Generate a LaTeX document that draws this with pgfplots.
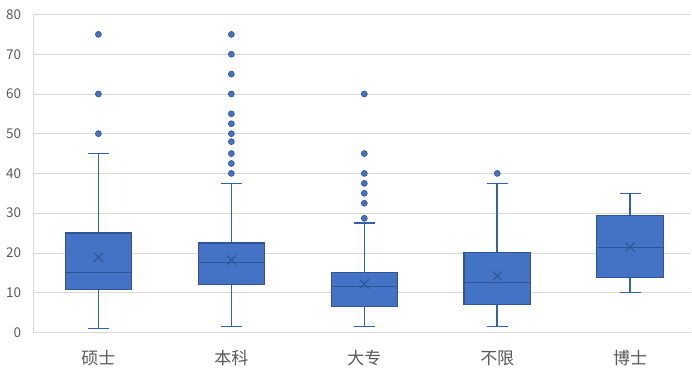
\documentclass[border=0pt]{standalone}
\usepackage{fontspec}
\setmainfont{Noto Sans CJK SC}
\usepackage{pgfplots}
\pgfplotsset{compat=1.18}
\usepgfplotslibrary{statistics}
\usetikzlibrary{calc}
\definecolor{boxfill}{HTML}{4472C4}
\definecolor{boxedge}{HTML}{2F5597}
\definecolor{whisk}{HTML}{3160B4}
\definecolor{gridc}{HTML}{D9D9D9}
\definecolor{labc}{HTML}{595959}
\begin{document}
\begin{tikzpicture}
\begin{axis}[
  scale only axis, width=657bp, height=318bp,
  xmin=-0.49, xmax=4.45, ymin=0, ymax=80,
  ytick={0,10,...,80},
  xtick={0,1,2,3,4}, xticklabels={硕士,本科,大专,不限,博士},
  ymajorgrids, grid style={gridc, line width=0.75bp},
  axis x line*=bottom, axis y line*=left,
  axis line style={gridc, line width=0.75bp},
  major tick length=0pt,
  /pgf/number format/assume math mode=true,
  yticklabel style={font=\fontsize{13.5bp}{15bp}\selectfont, text=labc, inner sep=0pt, xshift=-12bp},
  xticklabel style={font=\fontsize{17bp}{19bp}\selectfont, text=labc, inner sep=0pt, yshift=-18bp},
  boxplot/draw direction=y,
  boxplot/every whisker/.style={draw=whisk, line width=1.5bp},
  boxplot/every box/.style={fill=boxfill, draw=boxedge, line width=1.1bp},
  boxplot/every median/.style={draw=boxedge, line width=1.3bp},
  bx/.style={boxplot prepared={#1, box extend=0.5, whisker extend=0.16},
    fill=boxfill, draw=boxedge, line width=1.2bp,
    mark=*, mark size=3bp, mark options={fill=boxfill, draw=boxedge, line width=0.6bp}},
]
\addplot[bx={draw position=0, lower whisker=1, lower quartile=10.8, median=15, upper quartile=25, upper whisker=45}]
  coordinates {(0,75) (0,60) (0,50)};
\addplot[bx={draw position=1, lower whisker=1.5, lower quartile=12, median=17.5, upper quartile=22.5, upper whisker=37.5}]
  coordinates {(1,75) (1,70) (1,65) (1,60) (1,55) (1,52.5) (1,50) (1,48) (1,45) (1,42.5) (1,40)};
\addplot[bx={draw position=2, lower whisker=1.5, lower quartile=6.5, median=11.5, upper quartile=15, upper whisker=27.5}]
  coordinates {(2,60) (2,45) (2,40) (2,37.5) (2,35) (2,32.5) (2,28.7)};
\addplot[bx={draw position=3, lower whisker=1.5, lower quartile=7, median=12.5, upper quartile=20, upper whisker=37.5}]
  coordinates {(3,40)};
\addplot[bx={draw position=4, lower whisker=10, lower quartile=13.7, median=21.4, upper quartile=29.5, upper whisker=35}]
  coordinates {};
\addplot[only marks, mark=x, mark size=6.5bp, mark options={draw=boxedge, line width=1bp}]
  coordinates {(0,18.9) (1,18.2) (2,12.2) (3,14.2) (4,21.5)};
\end{axis}
\pgfresetboundingbox
\path[use as bounding box] ($(current axis.south west)+(-33.3bp,-39bp)$) rectangle ($(current axis.north east)+(2bp,14.5bp)$);
\end{tikzpicture}
\end{document}
